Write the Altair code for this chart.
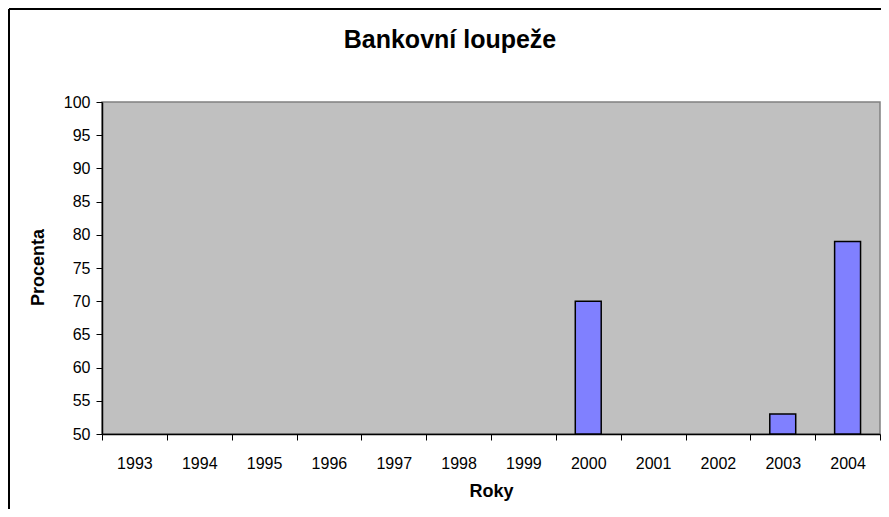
import altair as alt
import pandas as pd

# ---- data ----
years = ["1993", "1994", "1995", "1996", "1997", "1998", "1999",
         "2000", "2001", "2002", "2003", "2004"]
values = [None, None, None, None, None, None, None, 70, None, None, 53, 79]
y_ticks = [50, 55, 60, 65, 70, 75, 80, 85, 90, 95, 100]
chart_title = "Bankovní loupeže"

df = pd.DataFrame({"Rok": years, "Procenta": values})
FONT = "Liberation Sans"

bars = alt.Chart(df).mark_bar(
    color="#8080FF", stroke="#000000", strokeWidth=1.5,
    width=alt.RelativeBandSize(0.4),
).encode(
    x=alt.X("Rok:N",
            scale=alt.Scale(domain=years, paddingInner=0, paddingOuter=0),
            axis=alt.Axis(title="Roky", labelAngle=0, tickBand="extent",
                          domainColor="#000000", domainWidth=1.5,
                          tickColor="#000000", tickWidth=1, tickSize=6,
                          labelFont=FONT, labelFontSize=16, labelColor="#000000",
                          labelPadding=15,
                          titleFont=FONT, titleFontSize=18, titleFontWeight="bold",
                          titleColor="#000000", titleY=57, titleBaseline="middle")),
    y=alt.Y("Procenta:Q",
            scale=alt.Scale(domain=[50, 100], zero=False, nice=False),
            axis=alt.Axis(title="Procenta", values=y_ticks, grid=False,
                          domainColor="#000000", domainWidth=1.5,
                          tickColor="#000000", tickWidth=1, tickSize=6,
                          labelFont=FONT, labelFontSize=16, labelColor="#000000",
                          labelPadding=6,
                          titleFont=FONT, titleFontSize=18, titleFontWeight="bold",
                          titleColor="#000000", titleX=-64, titleY=165,
                          titleBaseline="middle")),
    y2=alt.datum(50),
)

frame_df = pd.DataFrame({"k": [0]})
left_border = alt.Chart(frame_df).mark_rule(color="#000000", strokeWidth=2).encode(
    x=alt.value(-93), y=alt.value(-93), y2=alt.value(450))
top_border = alt.Chart(frame_df).mark_rule(color="#000000", strokeWidth=2).encode(
    x=alt.value(-93), x2=alt.value(800), y=alt.value(-93))
title_text = alt.Chart(frame_df).mark_text(
    text=chart_title, font=FONT, fontSize=25, fontWeight="bold", color="#000000",
    align="center", baseline="alphabetic",
).encode(x=alt.value(348), y=alt.value(-54))

chart = alt.layer(bars, left_border, top_border, title_text).properties(
    width=778, height=332,
    padding={"left": 94, "top": 94, "right": 1, "bottom": 75},
    autosize=alt.AutoSizeParams(type="none"),
    background="#FFFFFF",
).configure_view(fill="#C0C0C0", stroke="#808080", strokeWidth=1.5)

chart.save("out.html", embed_options={"renderer": "svg", "actions": False})
